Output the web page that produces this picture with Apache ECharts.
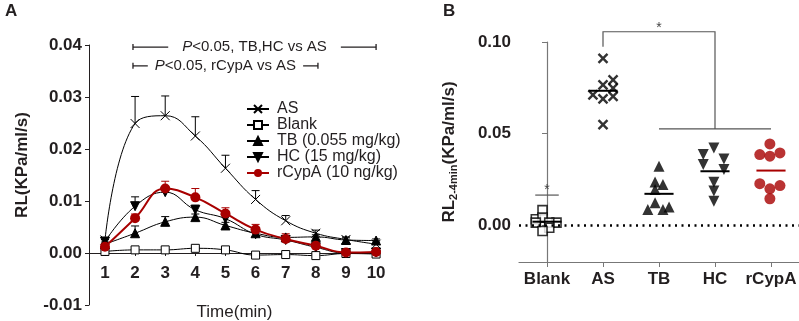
<!DOCTYPE html>
<html>
<head>
<meta charset="utf-8">
<script src="https://cdn.jsdelivr.net/npm/echarts@6/dist/echarts.min.js"></script>
<style>
  html, body { margin: 0; padding: 0; background: #fff; }
  #chart { width: 799px; height: 321px; }
</style>
</head>
<body>
<div id="chart"></div>
<script>
// ---- 数据 panel A ----
const times = [1, 2, 3, 4, 5, 6, 7, 8, 9, 10]
const asMean = [0.0025, 0.0249, 0.0264, 0.0225, 0.0163, 0.0103, 0.0062, 0.0038, 0.0026, 0.0017]
const asSem = [0.0005, 0.0052, 0.0038, 0.0037, 0.0025, 0.0017, 0.0010, 0.0006, 0.0005, 0.0004]
const blankMean = [0.0003, 0.0006, 0.0006, 0.0009, 0.0006, -0.0004, -0.0003, -0.0005, -0.0001, -0.0002]
const blankSem = [0.0002, 0.0002, 0.0002, 0.0002, 0.0002, 0.0002, 0.0002, 0.0002, 0.0002, 0.0002]
const tbMean = [0.0017, 0.0038, 0.0060, 0.0069, 0.0053, 0.0038, 0.0030, 0.0031, 0.0025, 0.0024]
const tbSem = [0.0004, 0.0014, 0.0010, 0.0006, 0.0006, 0.0004, 0.0004, 0.0004, 0.0004, 0.0003]
const hcMean = [0.0022, 0.0090, 0.0117, 0.0083, 0.0066, 0.0036, 0.0025, 0.0011, 0.0000, 0.0001]
const hcSem = [0.0004, 0.0018, 0.0008, 0.0009, 0.0007, 0.0005, 0.0005, 0.0005, 0.0003, 0.0003]
const rcMean = [0.0012, 0.0067, 0.0124, 0.0107, 0.0076, 0.0045, 0.0027, 0.0014, 0.0001, 0.0002]
const rcSem = [0.0003, 0.0008, 0.0014, 0.0017, 0.0011, 0.0010, 0.0010, 0.0006, 0.0004, 0.0003]
const seriesNames = ['AS', 'Blank', 'TB (0.055 mg/kg)', 'HC (15 mg/kg)', 'rCypA (10 ng/kg)']
// 显著性区间 [起, 止, y]
const sigRanges = [[1.93, 10, 0.0396], [1.93, 8.07, 0.0360]]
const sigTexts = ['{i|P}<0.05, TB,HC vs AS', '{i|P}<0.05, rCypA vs AS']

// ---- 数据 panel B ----
const groups = ['Blank', 'AS', 'TB', 'HC', 'rCypA']
const blankPts = [[-0.08, 0.0083], [-0.2, 0.0033], [-0.08, 0.0042], [0.17, 0.0015], [-0.2, 0.0015], [0.04, 0.0015], [0.04, -0.0013], [-0.08, -0.0031]]
const asPts = [[0, 0.0911], [0, 0.0766], [0.18, 0.0793], [0.18, 0.0748], [-0.18, 0.0712], [0, 0.0690], [0.18, 0.0703], [0, 0.0549]]
const tbPts = [[0, 0.0322], [-0.07, 0.0237], [0.07, 0.0223], [-0.07, 0.0196], [-0.07, 0.0123], [-0.2, 0.0087], [0.07, 0.0087], [0.18, 0.0100]]
const hcPts = [[-0.21, 0.0386], [0.16, 0.0362], [-0.21, 0.0332], [0.16, 0.0304], [-0.02, 0.0235], [-0.02, 0.0187], [-0.02, 0.0132], [-0.02, 0.0422]]
const rcPts = [[-0.2, 0.0386], [-0.02, 0.0377], [0.16, 0.0395], [-0.2, 0.0227], [-0.02, 0.0199], [0.16, 0.0217], [-0.02, 0.0145], [-0.02, 0.0444]]
const bTicks = [0, 0.05, 0.1]
// 标注线 (组序号, 值)
const sigLinesB = [
  [[1, 0.0974], [1, 0.1056], [3, 0.1056], [3, 0.0526]],
  [[2, 0.0526], [4, 0.0526]],
  [[-0.21, 0.0165], [0.21, 0.0165]],
]
const sigStarsB = [[2, 0.1078], [0, 0.0190]]

const FONT = '"Liberation Sans", Arial, Helvetica, sans-serif'
const INK = '#231f20'
const RED = '#a80000'
const GREY = '#777'

const chart = echarts.init(document.getElementById('chart'))

const pair = (xs, ys) => xs.map((x, i) => [x, ys[i]])
const errData = (mean, sem) => times.map((t, i) => [t, mean[i], mean[i] + sem[i]])
const jit = (pts, gi) => pts.map((p) => [gi + p[0], p[1]])
const avg = (pts) => pts.reduce((s, p) => s + p[1], 0) / pts.length

const errSeries = (mean, sem, color) => ({
  type: 'custom',
  xAxisIndex: 0,
  yAxisIndex: 0,
  z: 1,
  silent: true,
  data: errData(mean, sem),
  encode: { x: 0, y: [1, 2] },
  renderItem: (params, api) => {
    const p = api.coord([api.value(0), api.value(1)])
    const t = api.coord([api.value(0), api.value(2)])
    const st = { stroke: color, lineWidth: 1 }
    return {
      type: 'group',
      children: [
        { type: 'line', shape: { x1: p[0], y1: p[1], x2: t[0], y2: t[1] }, style: st },
        { type: 'line', shape: { x1: t[0] - 4, y1: t[1], x2: t[0] + 4, y2: t[1] }, style: st },
      ],
    }
  },
})

const lineSeries = (name, data, symbol, opts) => Object.assign({
  name,
  type: 'line',
  xAxisIndex: 0,
  yAxisIndex: 0,
  z: 3,
  smooth: 0.45,
  data: pair(times, data),
  symbol,
  symbolSize: 9,
  lineStyle: { color: '#000', width: 1 },
  itemStyle: { color: '#000', borderColor: '#000', borderWidth: 1 },
}, opts)

const scatterB = (pts, gi, symbol, size, itemStyle, rotate) => ({
  type: 'scatter',
  xAxisIndex: 1,
  yAxisIndex: 1,
  z: 3,
  symbol,
  symbolSize: size,
  symbolRotate: rotate || 0,
  itemStyle,
  data: jit(pts, gi),
})

const meanData = [blankPts, asPts, tbPts, hcPts, rcPts].map((pts, i) => [i, avg(pts)])

const option = {
  animation: false,
  textStyle: { fontFamily: FONT },
  grid: [
    { left: 89, top: 45, width: 291, height: 260, outerBoundsMode: 'none', containLabel: false },
    { left: 519, top: 42, width: 280, height: 220, outerBoundsMode: 'none', containLabel: false },
  ],
  xAxis: [
    {
      gridIndex: 0,
      type: 'value',
      min: 0.47,
      max: 10.13,
      offset: -52, // 轴线放在 y=0 处
      name: 'Time(min)',
      nameLocation: 'middle',
      nameGap: 51,
      nameTextStyle: { fontFamily: FONT, fontSize: 17, color: INK },
      axisLine: { onZero: false, lineStyle: { color: INK, width: 1 } },
      axisTick: { customValues: times, length: 3, lineStyle: { color: INK } },
      axisLabel: {
        customValues: times,
        margin: 12,
        fontFamily: FONT,
        fontSize: 17,
        fontWeight: 'bold',
        color: INK,
      },
      splitLine: { show: false },
    },
    {
      gridIndex: 1,
      type: 'value',
      min: -0.5,
      max: 4.5,
      axisLine: { onZero: false, lineStyle: { color: GREY, width: 1.2 } },
      axisTick: { customValues: [0, 1, 2, 3, 4], length: 5, lineStyle: { color: GREY } },
      axisLabel: {
        customValues: [0, 1, 2, 3, 4],
        formatter: (v) => groups[Math.round(v)],
        margin: 9,
        fontFamily: FONT,
        fontSize: 17,
        fontWeight: 'bold',
        color: INK,
      },
      splitLine: { show: false },
    },
  ],
  yAxis: [
    {
      gridIndex: 0,
      type: 'value',
      min: -0.01,
      max: 0.04,
      interval: 0.01,
      axisLine: { show: true, lineStyle: { color: INK, width: 1 } },
      axisTick: { show: true, length: 4, lineStyle: { color: INK } },
      axisLabel: {
        formatter: (v) => v.toFixed(2),
        margin: 7,
        fontFamily: FONT,
        fontSize: 17,
        fontWeight: 'bold',
        color: INK,
      },
      splitLine: { show: false },
    },
    {
      gridIndex: 1,
      type: 'value',
      min: -0.02,
      max: 0.1,
      axisLine: { show: true, lineStyle: { color: GREY, width: 1.2 } },
      axisTick: { show: true, customValues: bTicks, length: 5, lineStyle: { color: GREY } },
      axisLabel: {
        customValues: bTicks,
        formatter: (v) => v.toFixed(2),
        margin: 8,
        fontFamily: FONT,
        fontSize: 17,
        fontWeight: 'bold',
        color: INK,
      },
      splitLine: { show: false },
    },
  ],
  legend: {
    data: seriesNames,
    orient: 'vertical',
    left: 241,
    top: 96,
    itemWidth: 22,
    itemHeight: 10,
    itemGap: 0,
    textStyle: { fontFamily: FONT, fontSize: 16, lineHeight: 15, color: INK, padding: [0, 0, 0, 3] },
  },
  graphic: [
    { type: 'text', left: 5, top: 3, style: { text: 'A', font: 'bold 17px ' + FONT, fill: INK } },
    { type: 'text', left: 443, top: 3, style: { text: 'B', font: 'bold 17px ' + FONT, fill: INK } },
    {
      type: 'text', x: 22, y: 165, rotation: Math.PI / 2,
      style: { text: 'RL(KPa/ml/s)', font: 'bold 17px ' + FONT, fill: INK, align: 'center', verticalAlign: 'middle' },
    },
    {
      type: 'text', x: 449, y: 152, rotation: Math.PI / 2,
      style: {
        text: '{a|RL}{s|2-4min}{a|(KPa/ml/s)}',
        align: 'center',
        verticalAlign: 'middle',
        rich: {
          a: { font: 'bold 17px ' + FONT, fill: INK, lineHeight: 20, verticalAlign: 'middle' },
          s: { font: 'bold 11px ' + FONT, fill: INK, lineHeight: 20, verticalAlign: 'bottom' },
        },
      },
    },
  ],
  series: [
    errSeries(asMean, asSem, '#000'),
    errSeries(blankMean, blankSem, '#000'),
    errSeries(tbMean, tbSem, '#000'),
    errSeries(hcMean, hcSem, '#000'),
    errSeries(rcMean, rcSem, RED),
    lineSeries(seriesNames[0], asMean, 'path://M0,0L10,10M10,0L0,10', { symbolSize: 9 }),
    lineSeries(seriesNames[1], blankMean, 'rect', { symbolSize: 8, itemStyle: { color: '#fff', borderColor: '#000', borderWidth: 1 } }),
    lineSeries(seriesNames[2], tbMean, 'triangle', { symbolSize: 9 }),
    lineSeries(seriesNames[3], hcMean, 'triangle', { symbolSize: 9, symbolRotate: 180 }),
    lineSeries(seriesNames[4], rcMean, 'circle', {
      symbolSize: 10,
      z: 4,
      lineStyle: { color: RED, width: 2 },
      itemStyle: { color: RED, borderColor: RED, borderWidth: 0 },
    }),
    // 上方显著性区间
    {
      type: 'custom',
      xAxisIndex: 0,
      yAxisIndex: 0,
      silent: true,
      data: sigRanges,
      encode: { x: [0, 1], y: 2 },
      renderItem: (params, api) => {
        const a = api.coord([api.value(0), api.value(2)])
        const b = api.coord([api.value(1), api.value(2)])
        const st = { stroke: INK, lineWidth: 1.3 }
        const pad = params.dataIndex === 0 ? 14 : 7
        return {
          type: 'group',
          children: [
            { type: 'line', shape: { x1: a[0], y1: a[1], x2: b[0], y2: b[1] }, style: st },
            { type: 'line', shape: { x1: a[0], y1: a[1] - 3, x2: a[0], y2: a[1] + 3 }, style: st },
            { type: 'line', shape: { x1: b[0], y1: b[1] - 3, x2: b[0], y2: b[1] + 3 }, style: st },
            {
              type: 'text',
              z2: 10,
              style: {
                x: (a[0] + b[0]) / 2,
                y: a[1],
                text: sigTexts[params.dataIndex],
                align: 'center',
                verticalAlign: 'middle',
                font: '15px ' + FONT,
                fill: INK,
                backgroundColor: '#fff',
                padding: [0, pad],
                rich: { i: { font: 'italic 15px ' + FONT, fill: INK } },
              },
            },
          ],
        }
      },
    },
    // panel B
    {
      type: 'line',
      xAxisIndex: 1,
      yAxisIndex: 1,
      data: [],
      markLine: {
        silent: true,
        symbol: 'none',
        label: { show: false },
        lineStyle: { color: '#000', width: 2.5, type: [2, 4.5] },
        data: [{ yAxis: 0 }],
      },
    },
    scatterB(blankPts, 0, 'rect', 9, { color: '#fff', borderColor: '#000', borderWidth: 1.6 }),
    scatterB(asPts, 1, 'path://M0,0L10,10M10,0L0,10', 9, { color: '#000', borderColor: '#000', borderWidth: 2.4 }),
    scatterB(tbPts, 2, 'triangle', 11, { color: '#000' }),
    scatterB(hcPts, 3, 'triangle', 11, { color: '#000' }, 180),
    scatterB(rcPts, 4, 'circle', 11, { color: RED }),
    {
      type: 'custom',
      xAxisIndex: 1,
      yAxisIndex: 1,
      silent: true,
      z: 4,
      data: meanData,
      encode: { x: 0, y: 1 },
      renderItem: (params, api) => {
        const a = api.coord([api.value(0) - 0.26, api.value(1)])
        const b = api.coord([api.value(0) + 0.26, api.value(1)])
        return {
          type: 'line',
          shape: { x1: a[0], y1: a[1], x2: b[0], y2: b[1] },
          style: { stroke: api.value(0) === 4 ? RED : '#000', lineWidth: 2 },
        }
      },
    },
    {
      type: 'custom',
      xAxisIndex: 1,
      yAxisIndex: 1,
      silent: true,
      data: sigLinesB.map((l, i) => [i]),
      renderItem: (params, api) => ({
        type: 'polyline',
        shape: { points: sigLinesB[params.dataIndex].map((p) => api.coord(p)) },
        style: { stroke: '#555', lineWidth: 1.2, fill: null },
      }),
    },
    {
      type: 'custom',
      xAxisIndex: 1,
      yAxisIndex: 1,
      silent: true,
      data: sigStarsB,
      renderItem: (params, api) => {
        const p = api.coord([api.value(0), api.value(1)])
        return {
          type: 'text',
          style: { x: p[0], y: p[1], text: '*', align: 'center', verticalAlign: 'middle', font: '14px ' + FONT, fill: '#444' },
        }
      },
    },
  ],
}

chart.setOption(option)
</script>
</body>
</html>
